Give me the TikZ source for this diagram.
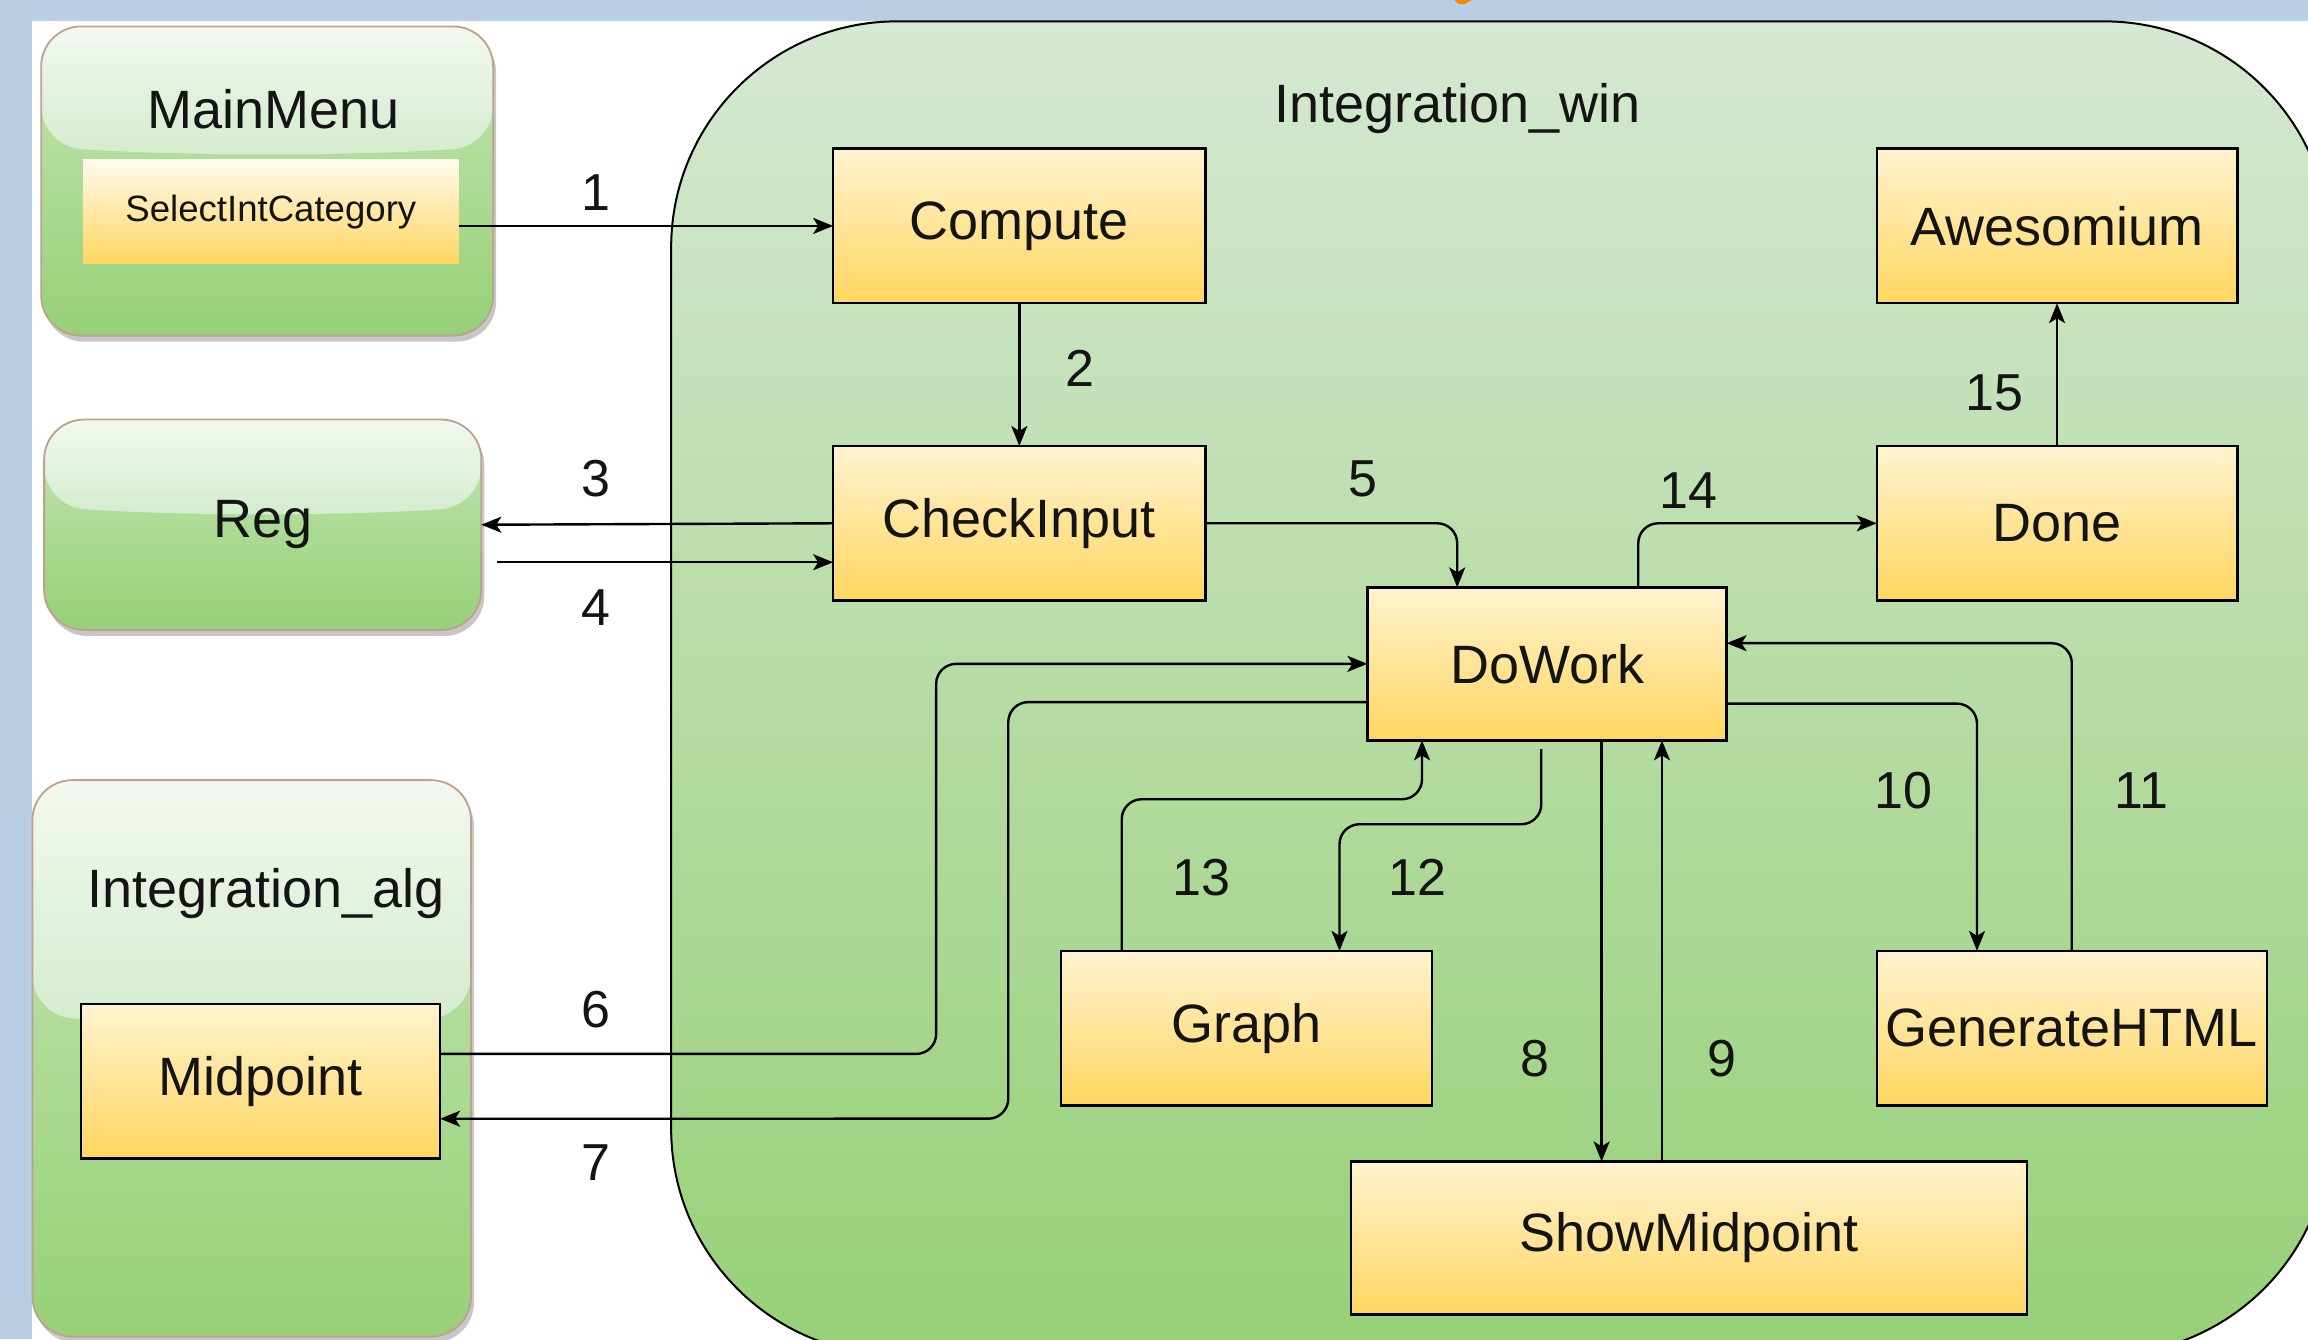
\documentclass[tikz,border=0pt]{standalone}
\usepackage{fontspec}
\setmainfont{Liberation Sans}
\usetikzlibrary{arrows.meta,calc,shadows}
\definecolor{bluebg}{RGB}{185,205,229}
\definecolor{ylwtop}{RGB}{255,243,208}
\definecolor{ylwbot}{RGB}{255,214,96}
\definecolor{seltop}{RGB}{255,250,236}
\definecolor{wintop}{RGB}{213,232,210}
\definecolor{winbot}{RGB}{151,208,119}
\definecolor{glasstop}{RGB}{243,248,241}
\definecolor{glasslow}{RGB}{212,235,205}
\definecolor{glassmid}{RGB}{196,230,180}
\definecolor{glassedge}{RGB}{190,160,140}
\definecolor{txt}{RGB}{20,20,20}
\definecolor{orangefrag}{RGB}{240,135,20}
\newcommand\bigtxt{\fontsize{27pt}{31pt}\selectfont}
\newcommand\numtxt{\fontsize{26pt}{30pt}\selectfont}
\newcommand\smalltxt{\fontsize{18.3pt}{22pt}\selectfont}
\begin{document}
\begin{tikzpicture}[x=0.736pt, y=-0.736pt,
  ybox/.style={draw=black, line width=1.2pt, top color=ylwtop, bottom color=ylwbot,
    inner sep=0pt, outer sep=0pt, font=\bigtxt, text=txt},
  glass/.style={draw=glassedge, line width=0.9pt, rounded corners=20pt, inner sep=0pt, outer sep=0pt,
    top color=glassmid, bottom color=winbot,
    drop shadow={shadow xshift=1.5pt, shadow yshift=-3pt, opacity=0.22, fill=black},
    path picture={
      \coordinate (gnw) at (path picture bounding box.north west);
      \coordinate (gse) at (path picture bounding box.south east);
      \coordinate (gne) at (gnw -| gse);
      \coordinate (gsw) at (gnw |- gse);
      \coordinate (gr) at ($(gne)!#1!(gse)$);
      \coordinate (gl) at ($(gnw)!#1!(gsw)$);
      \shade[top color=glasstop, bottom color=glasslow]
        (gnw) -- (gne) -- ([yshift=2pt]gr)
        .. controls ($(gr)!0.3!(gl)+(0pt,-3pt)$) and ($(gr)!0.7!(gl)+(0pt,-3pt)$) ..
        ([yshift=2pt]gl) -- cycle;
    }},
  lbl/.style={font=\numtxt, text=txt, inner sep=0pt},
  arr/.style={draw=black, line width=1.2pt, -{Stealth[length=10pt, width=8pt, inset=2.5pt]}},
  rc/.style={rounded corners=10pt}]
\useasboundingbox (0,0) rectangle (1568,910);
\begin{scope}
\clip (0,0) rectangle (1568,910);
\fill[bluebg] (0,0) rectangle (1568,910);
\fill[white] (21.5,14.5) rectangle (1568,910);
\fill[orangefrag] (988,0) -- (1000,0) -- (995,2.8) -- (991,2.8) -- cycle;

% container
\node[draw=black, line width=1pt, top color=wintop, bottom color=winbot, rounded corners=113pt,
  minimum width=829.5pt, minimum height=666.8pt, inner sep=0pt] (win) at (1019.5,467.5) {};
\node[font=\bigtxt, text=txt] (winlbl) at (990,74) {Integration\_win};

% glass boxes
\node[glass=0.40, minimum width=226pt, minimum height=154.6pt] (mainmenu) at (181.5,123) {};
\node[font=\bigtxt, text=txt] (mmlbl) at (186,74) {MainMenu};
\node[draw=none, top color=seltop, bottom color=ylwbot, inner sep=0pt, minimum width=187.7pt,
  minimum height=52pt, font=\smalltxt, text=txt] (sel) at (184,144) {SelectIntCategory};

\node[glass=0.43, minimum width=218.6pt, minimum height=105.2pt, font=\bigtxt, text=txt] (reg) at (178.5,356.5) {Reg};

\node[glass=0.43, minimum width=219.3pt, minimum height=278.2pt] (intalg) at (171,719) {};
\node[font=\bigtxt, text=txt] (alglbl) at (181,607) {Integration\_alg};
\node[ybox, minimum width=179.6pt, minimum height=77.3pt] (midpoint) at (177,734.5) {Midpoint};

% inner boxes
\node[ybox, minimum width=186.2pt, minimum height=77.3pt] (compute) at (692.5,153.5) {Compute};
\node[ybox, minimum width=186.2pt, minimum height=77.3pt] (checkinput) at (692.5,355.5) {CheckInput};
\node[ybox, minimum width=180.3pt, minimum height=77.3pt] (awesomium) at (1397.5,153.5) {Awesomium};
\node[ybox, minimum width=180.3pt, minimum height=77.3pt] (done) at (1397.5,355.5) {Done};
\node[ybox, minimum width=179.6pt, minimum height=76.5pt] (dowork) at (1051,451) {DoWork};
\node[ybox, minimum width=185.5pt, minimum height=77.3pt] (graph) at (847,698.5) {Graph};
\node[ybox, minimum width=195pt, minimum height=77.3pt] (genhtml) at (1407.5,698.5) {GenerateHTML};
\node[ybox, minimum width=337.8pt, minimum height=76.5pt] (showmid) at (1147.5,841) {ShowMidpoint};

% connectors
\draw[arr] (sel.east |- compute.west) -- (compute.west);
\draw[arr] (compute.south) -- (checkinput.north);
\draw[arr] (checkinput.west) -- (reg.east);
\coordinate (t4) at ($(checkinput.north west)!0.752!(checkinput.south west)$);
\draw[arr] ([xshift=8pt]reg.east |- t4) -- (t4);
\draw[arr, rc] (checkinput.east) -| ($(dowork.north west)!0.25!(dowork.north east)$);
\draw[arr, rc] ($(dowork.north west)!0.754!(dowork.north east)$) |- (done.west);
\draw[arr] (done.north) -- (awesomium.south);

\coordinate (s6) at ($(midpoint.north east)!0.324!(midpoint.south east)$);
\draw[arr, rc] (s6) -| (636,451) -- (dowork.west);
\coordinate (s7) at ($(dowork.north west)!0.75!(dowork.south west)$);
\coordinate (t7) at ($(midpoint.north east)!0.743!(midpoint.south east)$);
\draw[arr, rc] (s7) -| (685,760) -- (t7);

\coordinate (s13) at ($(graph.north west)!0.163!(graph.north east)$);
\coordinate (t13) at ($(dowork.south west)!0.152!(dowork.south east)$);
\draw[arr, rc] (s13) |- ($(t13)+(0,40)$) -- (t13);

\coordinate (s12) at ($(dowork.south west)!0.484!(dowork.south east)+(0,6)$);
\coordinate (t12) at ($(graph.north west)!0.75!(graph.north east)$);
\draw[arr, rc] (s12) -- ++(0,51) -| (t12);

\coordinate (s8) at ($(dowork.south west)!0.652!(dowork.south east)$);
\draw[arr] (s8) -- (s8 |- showmid.north);
\coordinate (t9) at ($(dowork.south west)!0.82!(dowork.south east)$);
\draw[arr] (t9 |- showmid.north) -- (t9);

\coordinate (s10) at ($(dowork.north east)!0.76!(dowork.south east)$);
\coordinate (t10) at ($(genhtml.north west)!0.257!(genhtml.north east)$);
\draw[arr, rc] (s10) -| (t10);
\coordinate (t11) at ($(dowork.north east)!0.365!(dowork.south east)$);
\draw[arr, rc] (genhtml.north) |- (t11);

% labels
\node[lbl] (l1) at (405,131) {1};
\node[lbl] (l2) at (734,250) {2};
\node[lbl] (l3) at (405,325) {3};
\node[lbl] (l4) at (405,413) {4};
\node[lbl] (l5) at (926,325) {5};
\node[lbl] (l6) at (405,686) {6};
\node[lbl] (l7) at (405,790) {7};
\node[lbl] (l8) at (1043,719) {8};
\node[lbl] (l9) at (1170,719) {9};
\node[lbl] (l10) at (1293,537) {10};
\node[lbl] (l11) at (1455,537) {11};
\node[lbl] (l12) at (963,596) {12};
\node[lbl] (l13) at (816,596) {13};
\node[lbl] (l14) at (1147,333) {14};
\node[lbl] (l15) at (1355,267) {15};
\end{scope}
\end{tikzpicture}
\end{document}
